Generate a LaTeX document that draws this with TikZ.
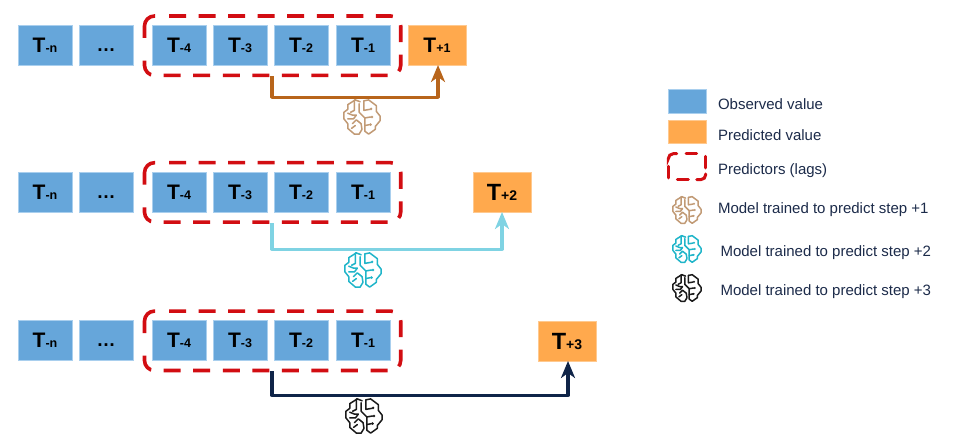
\documentclass[tikz,border=0pt]{standalone}
\usepackage{fontspec}
\setmainfont{Liberation Sans}
\usetikzlibrary{arrows.meta}
\definecolor{obsblue}{HTML}{66A6DA}
\definecolor{obsedge}{HTML}{A9CFEE}
\definecolor{predor}{HTML}{FFA94D}
\definecolor{predge}{HTML}{FFC98F}
\definecolor{lagred}{HTML}{D20D12}
\definecolor{txtnavy}{HTML}{1C2B4A}
\definecolor{arrA}{HTML}{B8651B}
\definecolor{arrB}{HTML}{7FD3E3}
\definecolor{arrC}{HTML}{0F2448}
\definecolor{icoA}{HTML}{C19A75}
\definecolor{icoB}{HTML}{1FB5C9}
\definecolor{icoC}{HTML}{1A1A1A}
\newcommand{\tlab}[1]{\fontsize{21}{23}\selectfont\bfseries T\fontsize{12.5}{14}\selectfont #1}
\newcommand{\tlabB}[1]{\fontsize{23.5}{25}\selectfont\bfseries T\fontsize{14}{16}\selectfont #1}
\newcommand{\tdots}{\fontsize{19}{22}\selectfont\bfseries\vphantom{T}…}
\tikzset{
  x=1pt,y=-1pt,
  every node/.style={inner sep=0pt,outer sep=0pt},
  obsbox/.style={draw=obsedge,fill=obsblue,line width=0.8pt,minimum width=54pt,minimum height=40pt,text=black},
  predbox/.style={draw=predge,fill=predor,line width=0.8pt,minimum width=58pt,minimum height=40pt,text=black},
  lagbox/.style={minimum width=256.2pt,minimum height=59.4pt},
  legtext/.style={anchor=base west,text=txtnavy,font=\fontsize{15}{18}\selectfont},
  link/.style={line width=3.1pt,line join=round,-{Stealth[length=17pt,width=14pt,inset=5pt]}},
  legdash/.style={draw=lagred,line width=3pt,line cap=round,rounded corners=5pt},
  lagframe/.pic={
    \draw[draw=lagred,line width=3.6pt,rounded corners=10pt,dash pattern=on 17pt off 12.55pt]
      (-103.6,-29.7) -- (128.1,-29.7) -- (128.1,29.7) -- (-128.1,29.7) -- (-128.1,14.3);
    \draw[draw=lagred,line width=3.6pt,rounded corners=10pt]
      (-128.1,-7.7) -- (-128.1,-29.7) -- (-117.6,-29.7);
  },
  brain/.pic={
    \begin{scope}[line width=1.5pt,draw=#1,line join=round,line cap=round,fill=#1]
      \draw (-2,-16) -- (-7,-18) -- (-15,-13) -- (-15,-8) -- (-19,-5) -- (-19,2) -- (-15,7) -- (-15,12) -- (-8,18) -- (-3,18) -- (0,13) -- (-1,7) -- (-6,3) -- (-10,7);
      \draw (2,-17) -- (7,-18) -- (15,-12) -- (15,-6) -- (19,-1) -- (19,4) -- (14,10) -- (14,13) -- (7,18) -- (3,15) -- (3,1) -- (-3,-5) -- (-3,-14);
      \draw (-8,-18) -- (-8,-7) -- (-12,-5);
      \draw (-15,-4) -- (-10,-2) -- (-6,-2) -- (-9,2) -- (-15,2);
      \draw (-11,12) -- (-7,9);
      \draw (2,-17) -- (2,-7) -- (8,-8);
      \draw (3,1) -- (9,0);
      \draw (3,9) -- (8,8);
      \fill (9.5,-8.5) circle (1.5);
      \fill (10.5,0) circle (1.5);
      \fill (9,8) circle (1.5);
    \end{scope}
  }
}
\begin{document}
\begin{tikzpicture}
\path[use as bounding box,fill=white] (0,0) rectangle (956,443);
% row 1
\node[obsbox] (a1) at (45,45) {\tlab{-n}};
\node[obsbox] (a2) at (106,45) {\tdots};
\node[obsbox] (a3) at (179,45) {\tlab{-4}};
\node[obsbox] (a4) at (240,45) {\tlab{-3}};
\node[obsbox] (a5) at (301,45) {\tlab{-2}};
\node[obsbox] (a6) at (363,45) {\tlab{-1}};
\node[predbox] (pa) at (437,45) {\tlab{+1}};
\node[lagbox] (la) at (272.6,45.7) {};
\pic at (la.center) {lagframe};
% row 2
\node[obsbox] (b1) at (45,192) {\tlab{-n}};
\node[obsbox] (b2) at (106,192) {\tdots};
\node[obsbox] (b3) at (179,192) {\tlab{-4}};
\node[obsbox] (b4) at (240,192) {\tlab{-3}};
\node[obsbox] (b5) at (301,192) {\tlab{-2}};
\node[obsbox] (b6) at (363,192) {\tlab{-1}};
\node[predbox] (pb) at (502,192) {\tlabB{+2}};
\node[lagbox] (lb) at (272.6,192.4) {};
\pic at (lb.center) {lagframe};
% row 3
\node[obsbox] (c1) at (45,340) {\tlab{-n}};
\node[obsbox] (c2) at (106,340) {\tdots};
\node[obsbox] (c3) at (179,340) {\tlab{-4}};
\node[obsbox] (c4) at (240,340) {\tlab{-3}};
\node[obsbox] (c5) at (301,340) {\tlab{-2}};
\node[obsbox] (c6) at (363,340) {\tlab{-1}};
\node[predbox] (pc) at (567,341) {\tlabB{+3}};
\node[lagbox] (lc) at (272.6,340.8) {};
\pic at (lc.center) {lagframe};
% connectors
\coordinate (startx) at (272,0);
\draw[link,draw=arrA] (la.south -| startx) ++(0,1) -- ++(0,21) -| ([xshift=1pt]pa.south);
\draw[link,draw=arrB] (lb.south -| startx) ++(0,1) -- ++(0,26) -| (pb.south);
\draw[link,draw=arrC] (lc.south -| startx) ++(0,1) -- ++(0,24) -| ([xshift=1pt]pc.south);
% brains
\pic[scale=.95] (ba) at (362,117) {brain=icoA};
\pic[scale=.95] (bb) at (363,270) {brain=icoB};
\pic[scale=.95] (bc) at (364,416) {brain=icoC};
% legend
\node[obsbox,minimum width=38pt,minimum height=24pt] (lg1) at (687,101) {};
\node[predbox,minimum width=38pt,minimum height=23pt] (lg2) at (687,132) {};
\node[minimum width=38pt,minimum height=26pt] (lg3) at (687,167) {};
\draw[legdash] (668.3,158) -- (668.3,153.7) -- (676.7,153.7);
\draw[legdash] (668.3,166.3) -- (668.3,178);
\draw[legdash] (677.3,179.7) -- (688.3,179.7);
\draw[legdash] (696.7,179.7) -- (705.7,179.7) -- (705.7,174);
\draw[legdash] (705.7,156.3) -- (705.7,168);
\draw[legdash] (686,153.7) -- (696.7,153.7);
\node[legtext] (t1) at (718,109.3) {Observed value};
\node[legtext] (t2) at (718,140.3) {Predicted value};
\node[legtext] (t3) at (718,174.5) {Predictors (lags)};
\node[legtext] (t4) at (718,214) {Model trained to predict step +1};
\node[legtext] (t5) at (720.5,256.5) {Model trained to predict step +2};
\node[legtext] (t6) at (720.5,295.5) {Model trained to predict step +3};
\pic[scale=.74] (bl1) at (687,210) {brain=icoA};
\pic[scale=.74] (bl2) at (687,249) {brain=icoB};
\pic[scale=.74] (bl3) at (687,288) {brain=icoC};
\end{tikzpicture}
\end{document}
